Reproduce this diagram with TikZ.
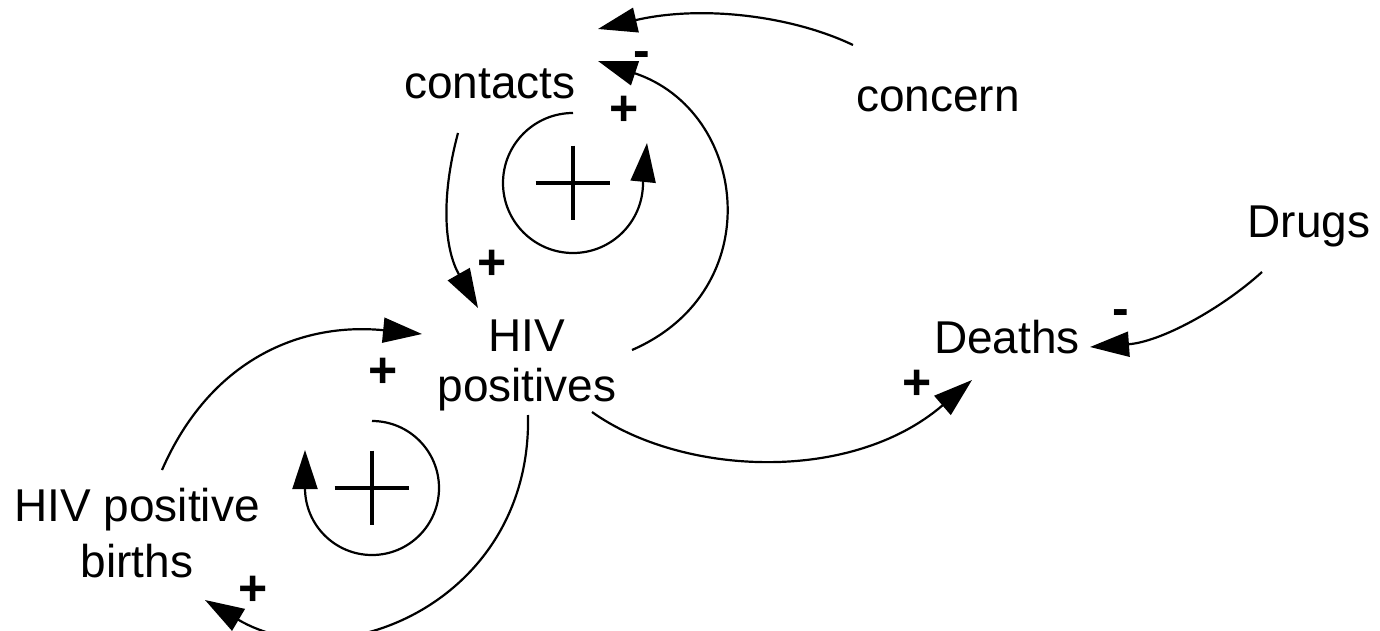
\documentclass[tikz,border=0pt]{standalone}
\usepackage{fontspec}
\setmainfont{Liberation Sans}
\usetikzlibrary{arrows.meta}

\begin{document}
\begin{tikzpicture}[x=0.5pt, y=-0.5pt,
    VAR/.style={font=\fontsize{23}{25}\selectfont, inner sep=0pt, align=center},
    SGN/.style={font=\fontsize{25}{25}\selectfont\bfseries, inner sep=0pt},
    LOOP/.style={minimum size=37pt, inner sep=0pt},
    link/.style={-{Triangle[length=19.5pt, width=12.5pt]}, line width=1.1pt}]
        \useasboundingbox (0,0) rectangle (1380,631);

        \node[VAR, anchor=base] (contacts) at (490,98) {contacts};
        \node[VAR, anchor=base] (concern) at (938,112) {concern};
        \node[VAR, anchor=base] (drugs) at (1309,237) {Drugs};
        \node[VAR, anchor=base] (deaths) at (1007,353) {Deaths};
        \node[VAR] (hivpos) at (527,365.5) {HIV\\positives};
        \node[VAR] (births) at (137,533.5) {HIV positive\\[3pt]births};

        \node[LOOP] (R1) at (573,183) {};
        \node[LOOP] (R2) at (372,488) {};
        \draw[line width=2pt] (R1.west) -- (R1.east) (R1.north) -- (R1.south);
        \draw[line width=2pt] (R2.west) -- (R2.east) (R2.north) -- (R2.south);

        \draw[link] ([shift={(-85,-67)}]concern.base) .. controls +(-63,-30) and +(102,-24) .. ([shift={(108,-69)}]contacts.base);
        \draw[link] ([shift={(105,-15.5)}]hivpos.center) .. controls +(138,-60) and +(150,50) .. ([shift={(108,-37)}]contacts.base);
        \draw[link] ([shift={(-32,35)}]contacts.base) .. controls +(-18,67) and +(-33,-58) .. ([shift={(-49,-57.5)}]hivpos.center);
        \draw[link] ([shift={(0,-70)}]R1.center) arc[start angle=270, end angle=0, radius=70] -- ++(4,-40);
        \draw[link] ([shift={(0,-67)}]R2.center) arc[start angle=270, end angle=540, radius=67] -- ++(0,-38);
        \draw[link] ([shift={(25,-63.5)}]births.center) .. controls +(48,-110) and +(-122,-12) .. ([shift={(-105,-31.5)}]hivpos.center);
        \draw[link] ([shift={(1,49.5)}]hivpos.center) .. controls +(4,185) and +(135,80) .. ([shift={(68,66.5)}]births.center);
        \draw[link] ([shift={(65,46.5)}]hivpos.center) .. controls +(88,63) and +(-122,105) .. ([shift={(-35,27)}]deaths.base);
        \draw[link] ([shift={(-47,35)}]drugs.base) .. controls +(-42,38) and +(70,-5) .. ([shift={(83,-6)}]deaths.base);

        % polarity signs
        \node[SGN] (s1) at (642,60) {-};
        \node[SGN] (s2) at (624,111) {+};
        \node[SGN] (s3) at (492,265) {+};
        \node[SGN] (s4) at (383,373) {+};
        \node[SGN] (s5) at (253,591) {+};
        \node[SGN] (s6) at (917,385) {+};
        \node[SGN] (s7) at (1121,318) {-};
\end{tikzpicture}
\end{document}
